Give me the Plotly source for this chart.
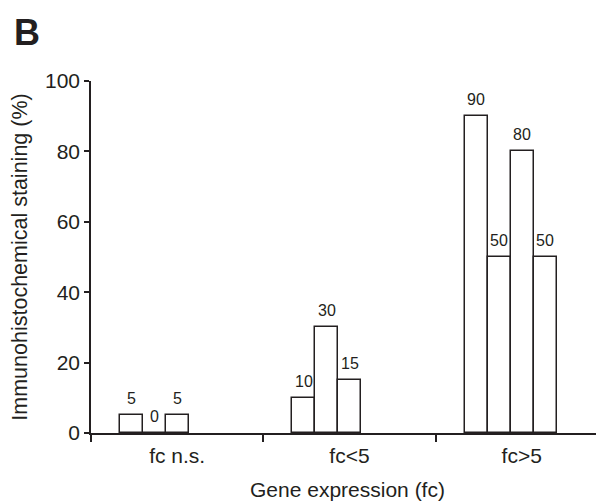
import plotly.graph_objects as go

categories = ["fc n.s.", "fc<5", "fc>5"]
slot1 = [5, 10, 90]
slot2 = [0, 30, 50]
slot3 = [5, 15, 80]
slot4 = [None, None, 50]
series = [slot1, slot2, slot3, slot4]
y_ticks = [0, 20, 40, 60, 80, 100]

# page body adds an 8px margin, so the figure is sized/offset to compensate
W, H = 596, 493
ML, MR, MT, MB = 83, 0, 73, 68
FONT = "Liberation Sans, Arial, Helvetica, sans-serif"
INK = "#231f20"

bar_w = 0.1335
start = -0.332
cat_px = 172.3

fig = go.Figure()
xc = list(range(len(categories)))
for i, vals in enumerate(series):
    off = start + i * bar_w
    fig.add_trace(go.Bar(
        x=xc, y=vals, width=bar_w, offset=off,
        marker=dict(color="white", line=dict(color=INK, width=1.5)),
        showlegend=False, hoverinfo="skip"))
    for c, v in zip(xc, vals):
        if v is None:
            continue
        fig.add_annotation(
            x=c + off + bar_w / 2, y=v, text=str(v), showarrow=False,
            xanchor="center", yanchor="bottom", yshift=6,
            font=dict(size=16, color=INK, family=FONT))

pw = W - ML - MR
ph = H - MT - MB
fig.update_layout(
    width=W, height=H,
    margin=dict(l=ML, r=MR, t=MT, b=MB, pad=0, autoexpand=False),
    paper_bgcolor="white", plot_bgcolor="white",
    font=dict(family=FONT, color=INK, size=21),
    bargap=0,
)
fig.update_xaxes(
    range=[-0.5, -0.5 + pw / cat_px], tickvals=xc, ticktext=categories,
    ticks="", showline=True, linecolor=INK, linewidth=1.5,
    showgrid=False, zeroline=False, automargin=False,
    tickfont=dict(size=21), ticklabelstandoff=3,
    minor=dict(tick0=-0.5, dtick=1, ticks="outside", ticklen=7,
               tickcolor=INK, tickwidth=1.5, showgrid=False),
    title=dict(text="Gene expression (fc)", font=dict(size=21), standoff=18),
)
fig.update_yaxes(
    range=[0, 100], tickvals=y_ticks, ticks="outside", ticklen=5,
    tickcolor=INK, tickwidth=1.5, showline=True, linecolor=INK, linewidth=1.5,
    showgrid=False, zeroline=False, tickfont=dict(size=21), automargin=False,
    title=dict(text="Immunohistochemical staining (%)", font=dict(size=21.5), standoff=12),
)
fig.add_annotation(
    text="<b>B</b>", xref="paper", yref="paper",
    x=(4 - ML) / pw, y=1 + (MT - 2) / ph, xanchor="left", yanchor="top",
    showarrow=False, font=dict(size=36, color=INK, family=FONT))

fig.write_html("out.html")
